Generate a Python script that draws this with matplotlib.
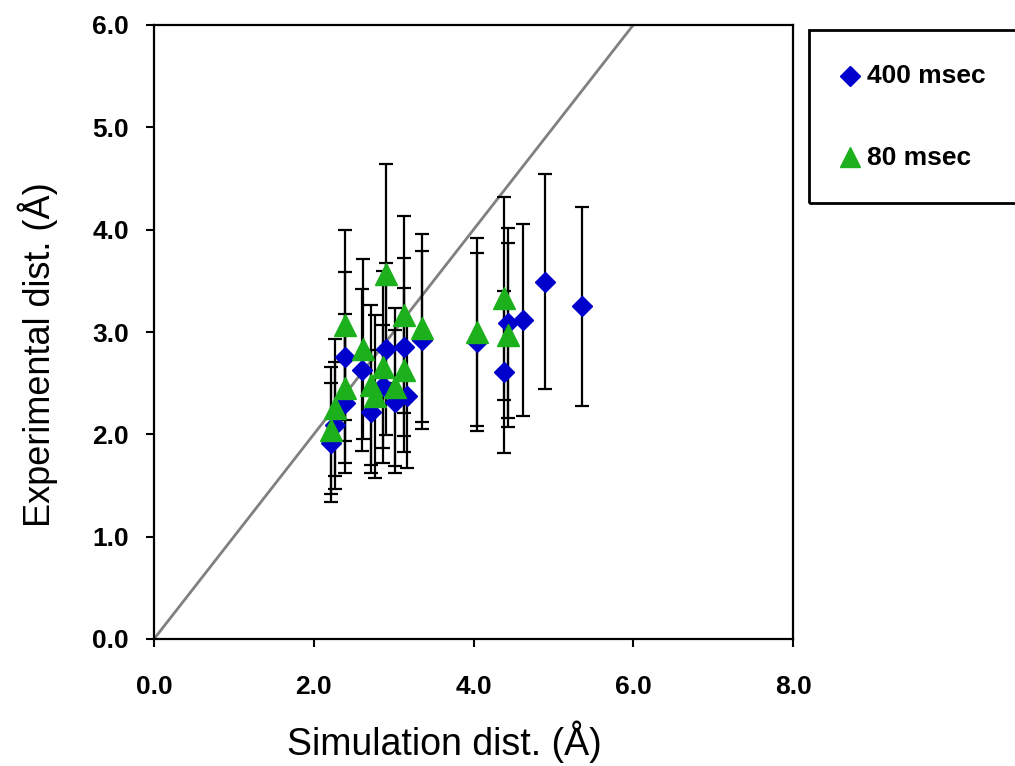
import matplotlib
matplotlib.use('Agg')
from matplotlib import pyplot as plt
from matplotlib.lines import Line2D
from matplotlib.patches import Rectangle

plt.rcParams['font.family'] = ['Liberation Sans', 'DejaVu Sans']

# 400 msec (blue diamonds)
sim_400 = [2.21, 2.27, 2.39, 2.39, 2.61, 2.72, 2.87, 2.90, 3.02, 3.13, 3.17, 3.36, 4.04, 4.38, 4.43, 4.62, 4.89, 5.36]
exp_400 = [1.92, 2.09, 2.76, 2.31, 2.63, 2.22, 2.47, 2.83, 2.32, 2.85, 2.37, 2.92, 2.90, 2.61, 3.09, 3.12, 3.49, 3.25]
err_400 = [0.58, 0.62, 0.83, 0.69, 0.79, 0.60, 0.60, 0.84, 0.70, 0.87, 0.70, 0.87, 0.87, 0.79, 0.93, 0.94, 1.05, 0.97]

# 80 msec (green triangles)
sim_80 = [2.21, 2.27, 2.39, 2.39, 2.62, 2.72, 2.77, 2.87, 2.90, 3.02, 3.13, 3.13, 3.36, 4.04, 4.38, 4.43]
exp_80 = [2.04, 2.26, 3.07, 2.45, 2.83, 2.48, 2.37, 2.66, 3.57, 2.46, 3.17, 2.63, 3.04, 3.00, 3.33, 2.97]
err_80 = [0.62, 0.67, 0.93, 0.73, 0.88, 0.78, 0.80, 0.94, 1.07, 0.77, 0.96, 0.80, 0.92, 0.92, 0.99, 0.90]

xticks = [0, 2, 4, 6, 8]
yticks = [0, 1, 2, 3, 4, 5, 6]

blue = '#0000CC'
green = '#1DB01D'

fig = plt.figure(figsize=(10.15, 7.66), dpi=100)
ax = fig.add_axes([154/1015, 1-639/766, 639/1015, 614/766])

# y = x reference line
ax.plot([0, 6], [0, 6], color='#808080', lw=2, zorder=1)

# error bars first, markers on top
ax.errorbar(sim_400, exp_400, yerr=err_400, fmt='none', ecolor='k', elinewidth=1.6,
            capsize=5, capthick=1.6, zorder=2)
ax.errorbar(sim_80, exp_80, yerr=err_80, fmt='none', ecolor='k', elinewidth=1.6,
            capsize=5, capthick=1.6, zorder=2)
ax.plot(sim_400, exp_400, 'D', color=blue, ms=10, mec=blue, ls='none', zorder=3)
ax.plot(sim_80, exp_80, '^', color=green, ms=15.5, mec=green, ls='none', zorder=4)

ax.set_xlim(0, 8)
ax.set_ylim(0, 6)
ax.set_xticks(xticks)
ax.set_yticks(yticks)
ax.set_xticklabels([f'{v:.1f}' for v in xticks], fontsize=19, fontweight='bold')
ax.set_yticklabels([f'{v:.1f}' for v in yticks], fontsize=19, fontweight='bold')
ax.tick_params(direction='out', length=6, width=1.5)
ax.tick_params(axis='x', pad=20)
ax.tick_params(axis='y', pad=12)
for s in ax.spines.values():
    s.set_linewidth(1.6)

ax.set_xlabel('Simulation dist. (Å)', fontsize=27)
ax.set_ylabel('Experimental dist. (Å)', fontsize=26)
ax.xaxis.set_label_coords(0.454, -0.168)
ax.xaxis.label.set_va('center')
ax.yaxis.set_label_coords(-0.1815, 0.4625)
ax.yaxis.label.set_va('center')

# legend box, running off the right edge like the original
fig.add_artist(Rectangle((809/1015, 1-203/766), 0.3, 173/766, transform=fig.transFigure,
                         fill=False, ec='k', lw=2))
fig.add_artist(Line2D([850/1015], [1-76/766], marker='D', ms=10, color=blue, ls='none',
                      transform=fig.transFigure))
fig.add_artist(Line2D([850/1015], [1-157/766], marker='^', ms=15, color=green, ls='none',
                      transform=fig.transFigure))
fig.text(867/1015, 1-76/766, '400 msec', fontsize=19, fontweight='bold', va='center')
fig.text(867/1015, 1-158/766, '80 msec', fontsize=19, fontweight='bold', va='center')

fig.savefig('out.png', dpi=100)
